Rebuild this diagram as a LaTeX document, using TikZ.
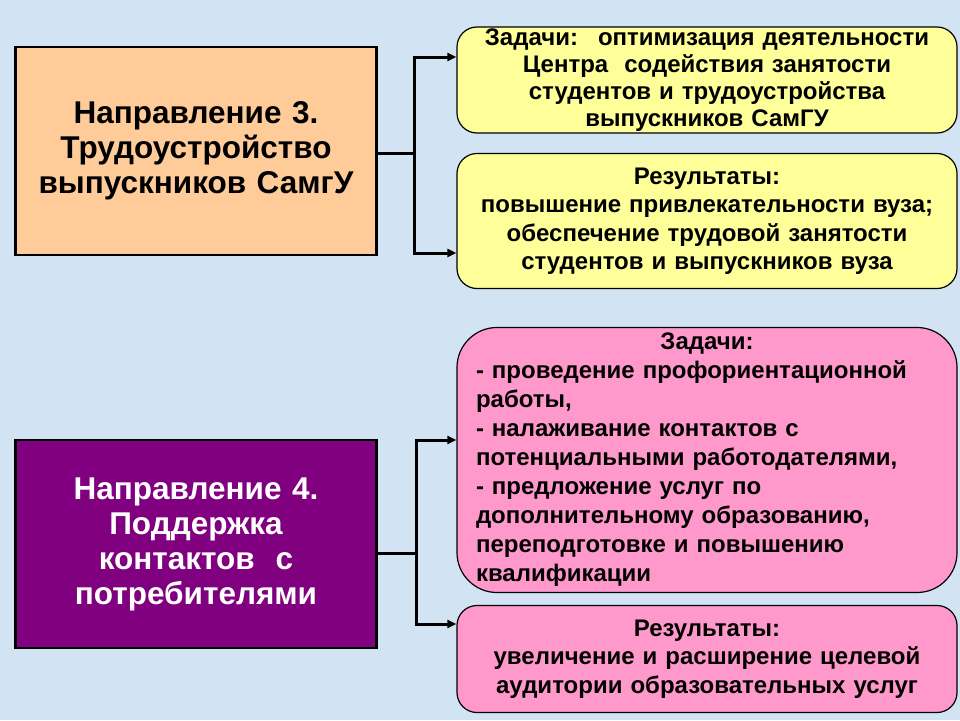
\documentclass[tikz,border=0pt]{standalone}
\usepackage{fontspec}
\setmainfont{Liberation Sans}
\usetikzlibrary{arrows.meta}
\definecolor{bgblue}{RGB}{210,227,244}
\definecolor{peach}{RGB}{255,204,153}
\definecolor{plum}{RGB}{128,0,128}
\definecolor{lemon}{RGB}{255,255,153}
\definecolor{rose}{RGB}{255,153,204}
\tikzset{
  dirbox/.style={draw=black,line width=2.5pt,minimum width=361pt,minimum height=208pt,
    text width=350pt,inner sep=0pt,align=center,font=\fontsize{31.5}{35}\selectfont\bfseries},
  goalbox/.style={draw=black,line width=1.2pt,rounded corners=20pt,minimum width=500pt,
    inner sep=0pt,align=center,font=\fontsize{24}{28.5}\selectfont\bfseries},
  link/.style={line width=3pt},
  arr/.style={link,-{Triangle[length=9pt,width=8pt]}}
}

\begin{document}
\begin{tikzpicture}[x=1pt,y=-1pt]
		\fill[bgblue] (0,0) rectangle (960,720);
		\useasboundingbox (0,0) rectangle (960,720);
		% direction 3
		\node[dirbox,fill=peach] (n3) at (196,151) {Направление 3.\\Трудоустройство\\выпускников СамгУ};
		\node[goalbox,fill=lemon,minimum height=106pt,text width=496pt,
			font=\fontsize{24}{27}\selectfont\bfseries] (t3) at (707,80)
			{Задачи:~ оптимизация деятельности\\Центра~ содействия занятости\\студентов и трудоустройства\\выпускников СамГУ};
		\node[goalbox,fill=lemon,minimum height=135pt,text width=496pt] (r3) at (707,221)
			{Результаты:\\повышение привлекательности вуза;\\обеспечение трудовой занятости\\студентов и выпускников вуза};
		% direction 4
		\node[dirbox,fill=plum,text=white] (n4) at (196,544) {Направление 4.\\Поддержка\\контактов~ с\\потребителями};
		\node[goalbox,fill=rose,rounded corners=40pt,minimum height=265pt,text width=462pt,align=left,
			font=\fontsize{24}{29}\selectfont\bfseries] (t4) at (707,460)
			{\makebox[\linewidth]{Задачи:}\\- проведение профориентационной\\работы,\\- налаживание контактов с\\потенциальными работодателями,\\- предложение услуг по\\дополнительному образованию,\\переподготовке и повышению\\квалификации};
		\node[goalbox,fill=rose,minimum height=107pt,text width=496pt] (r4) at (707,659)
			{Результаты:\\увеличение и расширение целевой\\аудитории образовательных услуг};
		% connectors
		\coordinate (j3) at (414,153);
		\coordinate (j4) at (416,553);
		\draw[link] (n3.east |- j3) -- (j3);
		\draw[arr] (j3) |- ([yshift=23pt]t3.west);
		\draw[arr] (j3) |- ([yshift=-32pt]r3.west);
		\draw[link] (n4.east |- j4) -- (j4);
		\draw[arr] (j4) |- ([yshift=20pt]t4.west);
		\draw[arr] (j4) |- ([yshift=35pt]r4.west);
	\end{tikzpicture}
\end{document}
